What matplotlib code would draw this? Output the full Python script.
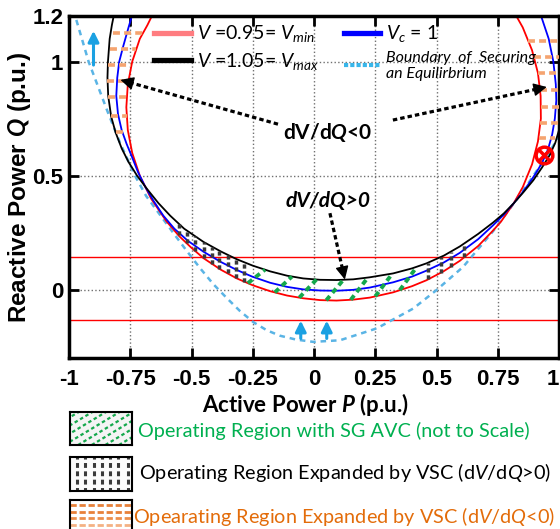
import numpy as np
import matplotlib.pyplot as plt
from matplotlib.lines import Line2D

plt.rcParams['font.family'] = ['Lato', 'DejaVu Sans']
plt.rcParams['mathtext.fontset'] = 'custom'
plt.rcParams['mathtext.rm'] = 'Lato'
plt.rcParams['mathtext.it'] = 'Lato:italic'
plt.rcParams['mathtext.bf'] = 'Lato:bold'
plt.rcParams['mathtext.bfit'] = 'Lato:bold:italic'
plt.rcParams['lines.scale_dashes'] = False

# ─── Data (P, Q in p.u.) ─────────────────────────────────────────────────────
# V = 0.95 (Vmin)
red_p = [-0.648, -0.68, -0.711, -0.742, -0.760, -0.766, -0.760, -0.742, -0.711, -0.665, -0.602,
         -0.55, -0.50, -0.45, -0.38, -0.315, -0.25, -0.179, -0.11, -0.044, 0.025, 0.092, 0.16,
         0.228, 0.323, 0.40, 0.459, 0.53, 0.595, 0.67, 0.731, 0.764, 0.815, 0.852, 0.89, 0.914,
         0.926, 0.925, 0.914, 0.89, 0.852, 0.81]
red_q = [1.23, 1.16, 1.10, 1.00, 0.90, 0.80, 0.70, 0.60, 0.50, 0.40, 0.30,
         0.235, 0.184, 0.138, 0.088, 0.05, 0.02, -0.006, -0.025, -0.037, -0.045, -0.047, -0.043,
         -0.034, -0.011, 0.016, 0.042, 0.082, 0.127, 0.192, 0.26, 0.30, 0.379, 0.45, 0.55, 0.65,
         0.75, 0.85, 0.95, 1.05, 1.15, 1.23]

# V = 1.05 (Vmax)
blk_p = [-0.812, -0.825, -0.834, -0.841, -0.843, -0.84, -0.828, -0.81, -0.785, -0.757, -0.722,
         -0.68, -0.635, -0.587, -0.53, -0.451, -0.38, -0.315, -0.25, -0.179, -0.11, -0.044, 0.025,
         0.092, 0.16, 0.228, 0.323, 0.40, 0.459, 0.53, 0.595, 0.67, 0.731, 0.775, 0.815, 0.855,
         0.895, 0.93, 0.962, 0.985, 1.0, 1.015]
blk_q = [1.23, 1.16, 1.10, 1.00, 0.93, 0.85, 0.76, 0.69, 0.62, 0.56, 0.50,
         0.44, 0.38, 0.325, 0.268, 0.21, 0.168, 0.134, 0.106, 0.081, 0.062, 0.05, 0.044,
         0.043, 0.046, 0.055, 0.072, 0.094, 0.116, 0.15, 0.19, 0.245, 0.295, 0.335, 0.379, 0.428,
         0.48, 0.535, 0.59, 0.645, 0.70, 0.78]

# Vc = 1
blu_p = [-0.735, -0.757, -0.778, -0.795, -0.803, -0.807, -0.80, -0.785, -0.765, -0.742, -0.718,
         -0.688, -0.655, -0.615, -0.57, -0.515, -0.451, -0.38, -0.315, -0.25, -0.179, -0.11,
         -0.044, 0.025, 0.092, 0.16, 0.228, 0.323, 0.40, 0.459, 0.53, 0.595, 0.67, 0.731, 0.775,
         0.815, 0.85, 0.88, 0.905, 0.93, 0.955, 0.972, 0.983, 0.989, 0.987, 0.977, 0.958, 0.93, 0.918]
blu_q = [1.23, 1.15, 1.07, 1.00, 0.93, 0.85, 0.77, 0.70, 0.64, 0.58, 0.515,
         0.45, 0.39, 0.325, 0.268, 0.215, 0.167, 0.122, 0.087, 0.057, 0.031, 0.013,
         0.002, -0.003, -0.004, 0.0, 0.01, 0.033, 0.058, 0.084, 0.12, 0.162, 0.222, 0.283, 0.33,
         0.379, 0.425, 0.47, 0.51, 0.555, 0.615, 0.68, 0.75, 0.83, 0.90, 1.00, 1.10, 1.19, 1.23]

# boundary of securing an equilibrium
bnd_p = [-0.995, -0.974, -0.92, -0.845, -0.791, -0.73, -0.685, -0.628, -0.574, -0.519, -0.465,
         -0.411, -0.356, -0.302, -0.247, -0.193, -0.139, -0.073, -0.003, 0.106, 0.256, 0.405,
         0.50, 0.609, 0.731, 0.812, 0.881, 0.949, 0.989, 1.027]
bnd_q = [1.27, 1.197, 1.0, 0.788, 0.642, 0.499, 0.411, 0.328, 0.249, 0.17, 0.095,
         0.025, -0.036, -0.093, -0.142, -0.177, -0.201, -0.218, -0.228, -0.221, -0.169, -0.082,
         -0.001, 0.101, 0.257, 0.374, 0.477, 0.586, 0.652, 0.714]

# reactive power limits (red horizontal lines)
q_limits = [0.142, -0.134]

# hatch marks for the regions
green_p0 = [-0.27, -0.16, -0.06, 0.05, 0.15, 0.25, 0.35]
green_dp = 0.07
gray_p = [-0.553, -0.519, -0.485, -0.451, -0.417, -0.386, -0.352, -0.318, -0.284,
          0.466, 0.518, 0.559, 0.613]
orange_left_q = [1.127, 1.056, 0.986, 0.913, 0.844, 0.761, 0.693]
orange_left_p0 = [-0.82, -0.832, -0.842, -0.843, -0.84, -0.828, -0.808]
orange_left_p1 = [-0.70, -0.725, -0.745, -0.758, -0.764, -0.765, -0.762]
orange_right_q = [1.092, 1.022, 0.952, 0.876, 0.80, 0.73, 0.664]
orange_right_p0 = [0.875, 0.898, 0.915, 0.924, 0.926, 0.924, 0.918]
orange_right_p1 = [1.0, 1.0, 1.0, 1.0, 1.0, 1.0, 0.985]

# annotations
instab_pt = (0.94, 0.59)
black_arrows = [((-0.147, 0.726), (-0.79, 0.92)), ((0.322, 0.744), (0.95, 0.889)),
                ((0.065, 0.336), (0.126, 0.045))]
blue_arrows = [((-0.9, 0.985), (-0.9, 1.135)), ((-0.054, -0.213), (-0.054, -0.135)),
               ((0.052, -0.213), (0.052, -0.135))]

x_ticks = [-1, -0.75, -0.5, -0.25, 0, 0.25, 0.5, 0.75, 1]
x_ticklabels = ['-1', '-0.75', '-0.5', '-0.25', '0', '0.25', '0.5', '0.75', '1']
y_ticks = [0, 0.5, 1, 1.2]
y_ticklabels = ['0', '0.5', '1', '1.2']

C_RED = '#ff0000'
C_BLUE = '#0000ff'
C_BND = '#5ab4e5'
C_ARROW = '#1ba1e2'
C_ORANGE = '#f5a470'
C_GREEN = '#14a84c'
C_GRAY = '#3a3a3a'


def q_on(p, cp, cq):
    """Q of the lower branch of a curve at abscissa p."""
    cp = np.asarray(cp)
    cq = np.asarray(cq)
    i0, i1 = cp.argmin(), cp.argmax()
    return np.interp(p, cp[i0:i1 + 1], cq[i0:i1 + 1])


# ─── Figure ──────────────────────────────────────────────────────────────────
fig = plt.figure(figsize=(5.6, 5.29), dpi=100)
ax = fig.add_axes([69 / 560, 1 - 358.3 / 529, 490 / 560, 342.3 / 529])
ax.set_xlim(-1, 1)
ax.set_ylim(-0.3, 1.2)

ax.grid(True, ls=':', color='#707070', lw=1.0)
for q in q_limits:
    ax.axhline(q, color=C_RED, lw=1.0, zorder=2)

ax.plot(bnd_p, bnd_q, color=C_BND, lw=1.8, ls=(0, (4, 3.5)), zorder=2.2)
ax.plot(red_p, red_q, color=C_RED, lw=1.3, zorder=2.5)
ax.plot(blu_p, blu_q, color=C_BLUE, lw=1.3, zorder=2.5)
ax.plot(blk_p, blk_q, color='k', lw=1.3, zorder=2.5)

# region hatches
for p0 in green_p0:
    ax.plot([p0, p0 + green_dp], [q_on(p0, red_p, red_q), q_on(p0 + green_dp, blk_p, blk_q)],
            color=C_GREEN, lw=2.8, ls=(0, (4, 3)), solid_capstyle='butt', zorder=3)
for p in gray_p:
    ax.plot([p, p], [q_on(p, red_p, red_q), q_on(p, blk_p, blk_q)],
            color=C_GRAY, lw=2.5, ls=(0, (3, 2)), zorder=3)
for q, a, b in zip(orange_left_q, orange_left_p0, orange_left_p1):
    ax.plot([a, b], [q, q], color=C_ORANGE, lw=2.6, ls=(0, (5, 3)), zorder=3)
for q, a, b in zip(orange_right_q, orange_right_p0, orange_right_p1):
    ax.plot([a, b], [q, q], color=C_ORANGE, lw=2.6, ls=(0, (5, 3)), zorder=3)

# instability point
ax.plot(*instab_pt, marker='o', ms=12, mfc='none', mec=C_RED, mew=2.5, zorder=4)
ax.plot(*instab_pt, marker='x', ms=8, mec=C_RED, mew=2.5, zorder=4)

# black dashed arrows: dashed shaft + solid head
for tail, head in black_arrows:
    t_px = ax.transData.transform(tail)
    h_px = ax.transData.transform(head)
    frac = 10.0 / np.hypot(*(h_px - t_px))
    neck = (head[0] - frac * (head[0] - tail[0]), head[1] - frac * (head[1] - tail[1]))
    ax.plot([tail[0], neck[0]], [tail[1], neck[1]], color='k', lw=2.3,
            ls=(0, (3.2, 2.2)), zorder=5)
    ax.annotate('', xy=head, xytext=neck,
                arrowprops=dict(arrowstyle='-|>', color='k', lw=1.0,
                                mutation_scale=20, shrinkA=0, shrinkB=0), zorder=5)
for tail, head in blue_arrows:
    ax.annotate('', xy=head, xytext=tail,
                arrowprops=dict(arrowstyle='-|>', color=C_ARROW, lw=2.2,
                                mutation_scale=16, shrinkA=0, shrinkB=0), zorder=5)

ax.text(0.057, 0.69, 'dV/d$\\mathbfit{Q}$<0', fontsize=15, fontweight='bold',
        ha='center', va='center')
ax.text(0.057, 0.388, 'dV/dQ>0', fontsize=15, fontweight='bold', fontstyle='italic',
        ha='center', va='center')

# legend
handles = [Line2D([], [], color='#ff7c80', lw=3.8),
           Line2D([], [], color='k', lw=3.8),
           Line2D([], [], color=C_BLUE, lw=3.8),
           Line2D([], [], color='#38b6ea', lw=3, ls=(0, (3, 1.5)))]
labels = ['$V$ =0.95= $V_{min}$', '$V$ =1.05= $V_{max}$', '$V_c$ = 1',
          'Boundary  of  Securing\nan Equilirbrium']
leg = ax.legend(handles, labels, ncol=2, loc='upper left', bbox_to_anchor=(0.165, 0.99),
                frameon=False, fontsize=14, handlelength=1.9, handletextpad=0.3,
                columnspacing=1.3, labelspacing=0.35, borderpad=0.2, borderaxespad=0)
leg.get_texts()[3].set_fontsize(11.5)
leg.get_texts()[3].set_fontstyle('italic')

# axes styling
ax.set_xticks(x_ticks)
ax.set_xticklabels(x_ticklabels)
ax.set_yticks(y_ticks)
ax.set_yticklabels(y_ticklabels)
ax.tick_params(direction='in', length=7, width=2, top=True, right=True, labelsize=16)
ax.tick_params(axis='x', pad=8)
ax.tick_params(axis='y', pad=4)
for lbl in ax.get_xticklabels() + ax.get_yticklabels():
    lbl.set_fontfamily(['Liberation Sans Narrow', 'Liberation Sans'])
    lbl.set_fontweight('bold')
ax.get_xticklabels()[-1].set_ha('right')   # keep the last label inside the figure
for s in ax.spines.values():
    s.set_linewidth(2.5)

ax.set_xlabel('Active Power $\\mathbfit{P}$ (p.u.)', fontsize=16, fontweight='bold')
ax.xaxis.set_label_coords(0.482, -0.136)
ax.xaxis.label.set_va('center')
ax.set_ylabel('Reactive Power $\\mathbfit{Q}$ (p.u.)', fontsize=17.5, fontweight='bold',
              family=['Liberation Sans', 'DejaVu Sans'])
ax.yaxis.set_label_coords(-0.1, 0.5)
ax.yaxis.label.set_va('center')

# ─── Region key below the axes ───────────────────────────────────────────────
def key_box(top_px, h_px, face):
    kb = fig.add_axes([70 / 560, 1 - (top_px + h_px) / 529, 62 / 560, h_px / 529])
    kb.set_xlim(0, 1)
    kb.set_ylim(0, 1)
    kb.set_xticks([])
    kb.set_yticks([])
    kb.set_facecolor(face)
    for s in kb.spines.values():
        s.set_linewidth(1.5)
    return kb


kb1 = key_box(412, 33, '#f4f4f4')
for x0 in np.arange(-0.75, 0.9, 0.22):
    kb1.plot([x0, x0 + 0.89], [0, 1], color=C_GREEN, lw=1.6, ls=(0, (2.5, 2)))
kb2 = key_box(457, 34, '#fbfbfb')
for x0 in [0.11, 0.24, 0.38, 0.51, 0.65, 0.78, 0.94]:
    kb2.plot([x0, x0], [0, 1], color=C_GRAY, lw=2.2, ls=(1, (3.5, 2.5)))
kb3 = key_box(500, 40, 'white')
for y0, c in zip([0.875, 0.69, 0.54, 0.375], ['#e8813a', '#e8813a', '#ec8e4c', '#f4b183']):
    kb3.plot([0, 1], [y0, y0], color=c, lw=2.0, ls=(0, (4.5, 2)))

fig.text(138 / 560, 1 - 431 / 529, 'Operating Region with SG AVC (not to Scale)',
         color='#00b050', fontsize=14.3, va='center')
fig.text(139 / 560, 1 - 472 / 529, 'Operating Region Expanded by VSC (d$V$/d$Q$>0)',
         color='k', fontsize=14.3, va='center')
fig.text(133 / 560, 1 - 517 / 529, 'Opearating Region Expanded by VSC (d$V$/d$Q$<0)',
         color='#e36c0a', fontsize=14.3, va='center')

fig.savefig('out.png', dpi=100)
